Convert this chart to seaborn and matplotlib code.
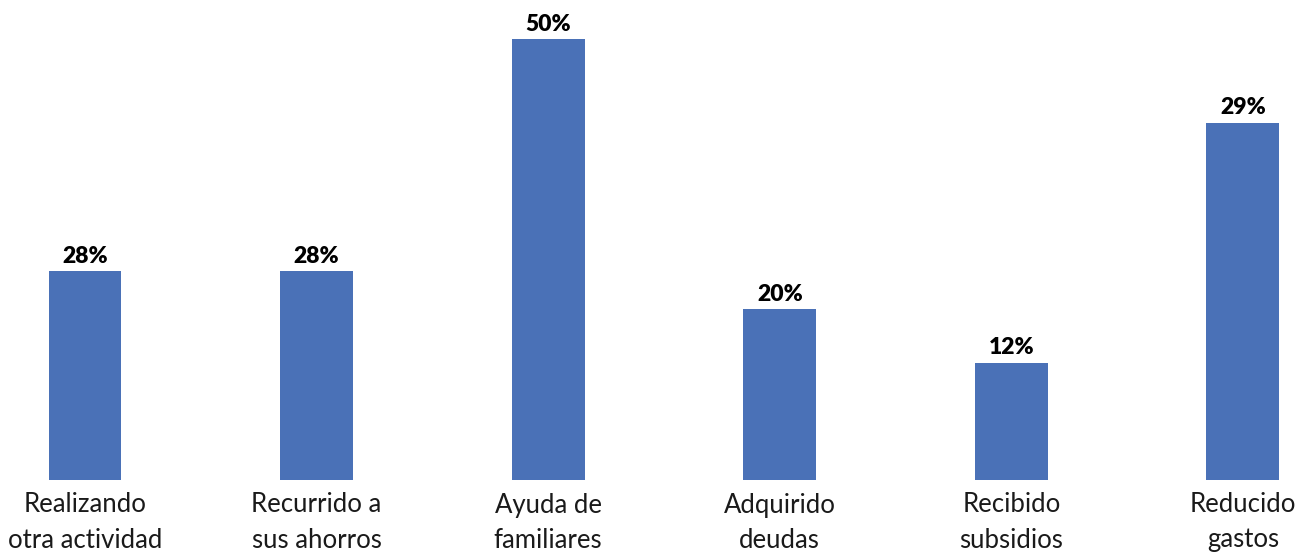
import matplotlib
matplotlib.use("Agg")
import matplotlib.pyplot as plt
import pandas as pd
import seaborn as sns

# Datos (altura visible de cada barra y etiqueta mostrada)
categorias = [
    "Realizando\notra actividad",
    "Recurrido a\nsus ahorros",
    "Ayuda de\nfamiliares",
    "Adquirido\ndeudas",
    "Recibido\nsubsidios",
    "Reducido\ngastos",
]
alturas = [23.7, 23.7, 50.0, 19.4, 13.3, 40.5]
etiquetas = ["28%", "28%", "50%", "20%", "12%", "29%"]

df = pd.DataFrame({"categoria": categorias, "valor": alturas})

sns.set_theme(style="white")
plt.rcParams["font.family"] = ["Lato", "DejaVu Sans"]

fig = plt.figure(figsize=(13.02, 5.52), dpi=100)
ax = fig.add_axes([0, 72 / 552, 1, 480 / 552])

sns.barplot(data=df, x="categoria", y="valor", color="#4A71B7",
            width=0.315, saturation=1, linewidth=0, ax=ax)

for i, (h, txt) in enumerate(zip(alturas, etiquetas)):
    ax.annotate(txt, (i, h), xytext=(0, 3), textcoords="offset points",
                ha="center", va="bottom", fontsize=16.5, fontweight="heavy",
                color="black")

ax.set_xlim(-0.367, 5.255)
ax.set_ylim(0, 54.4)
ax.set_xlabel("")
ax.set_ylabel("")
ax.set_yticks([])
ax.tick_params(axis="x", length=0, pad=9, labelsize=18.5, labelcolor="#1a1a1a")
for lab in ax.get_xticklabels():
    lab.set_linespacing(1.5)
sns.despine(ax=ax, left=True, bottom=True)

fig.savefig("out.png", dpi=100)
plt.close(fig)
